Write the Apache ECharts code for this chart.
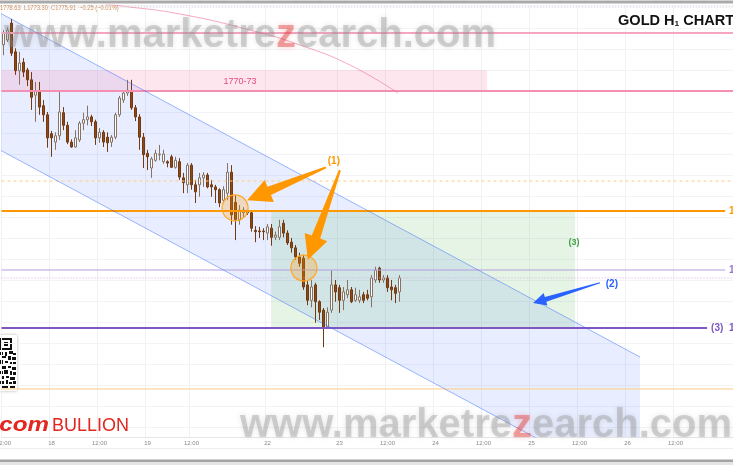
<!DOCTYPE html>
<html><head><meta charset="utf-8">
<script src="https://cdn.jsdelivr.net/npm/echarts@6/dist/echarts.min.js"></script>
<style>html,body{margin:0;padding:0;background:#fff;overflow:hidden}#c{width:733px;height:465px}</style>
</head><body><div id="c"></div>
<script>
// ---------- data (prices) ----------
const candleOpen = [1776.6,1777.3,1779.7,1775.6,1772.9,1774.1,1773.0,1771.6,1769.4,1769.9,
1767.9,1766.6,1763.9,1762.7,1763.6,1766.9,1765.1,1762.7,1762.0,1763.0,
1765.4,1765.9,1766.3,1765.6,1763.3,1764.1,1763.4,1762.7,1763.4,1766.6,
1768.7,1769.7,1770.0,1767.6,1766.3,1763.4,1761.1,1759.0,1760.1,1760.9,
1759.9,1759.9,1760.6,1759.1,1759.9,1757.6,1756.6,1759.4,1756.6,1756.6,
1757.6,1758.0,1756.6,1756.3,1755.9,1754.4,1755.4,1758.4,1754.1,1751.6,
1752.6,1752.7,1752.6,1750.1,1750.0,1750.0,1749.7,1750.4,1749.1,1749.1,
1751.1,1749.7,1748.4,1747.6,1746.3,1746.1,1742.3,1740.1,1742.3,1739.9,
1738.7,1736.3,1738.7,1742.3,1741.9,1740.1,1740.9,1741.6,1740.1,1740.1,
1740.9,1740.9,1740.6,1743.0,1744.7,1743.0,1743.3,1742.0,1741.9,1741.3];
const candleClose = [1778.3,1778.7,1775.4,1772.9,1774.0,1772.7,1771.6,1769.1,1769.9,1767.7,
1766.6,1763.3,1763.3,1763.6,1767.0,1765.1,1762.7,1762.0,1763.3,1765.4,
1765.9,1766.3,1765.6,1763.3,1764.1,1762.7,1762.6,1763.4,1766.6,1769.0,
1769.7,1770.1,1767.6,1766.3,1763.4,1760.9,1760.6,1760.3,1761.1,1761.0,
1761.0,1759.7,1759.1,1760.1,1757.7,1756.9,1759.4,1756.6,1755.6,1757.6,
1758.0,1756.3,1756.3,1755.9,1754.0,1755.9,1758.4,1752.3,1751.6,1753.0,
1753.0,1752.6,1750.4,1749.9,1749.9,1749.9,1750.6,1749.1,1749.4,1750.6,
1749.7,1748.3,1747.6,1746.3,1745.4,1742.0,1740.1,1742.0,1739.9,1738.4,
1736.3,1738.4,1742.3,1741.3,1740.1,1741.3,1741.6,1739.9,1740.9,1740.6,
1740.1,1740.4,1743.3,1744.4,1743.0,1743.3,1741.9,1741.6,1741.1,1743.3];
const candleLow = [1775.1,1777.0,1775.0,1772.3,1770.9,1772.0,1770.7,1767.3,1765.6,1766.6,
1765.6,1761.9,1760.6,1761.6,1763.0,1764.4,1762.4,1761.9,1761.9,1762.7,
1764.4,1765.1,1765.0,1762.3,1762.6,1762.0,1761.3,1762.0,1763.1,1766.3,
1768.3,1769.3,1767.3,1765.7,1761.6,1759.0,1758.7,1757.6,1759.9,1760.1,
1759.6,1759.1,1759.0,1758.9,1757.3,1755.4,1755.4,1755.9,1754.0,1754.9,
1756.3,1756.1,1754.9,1754.0,1753.4,1754.0,1754.4,1750.9,1748.7,1750.9,
1752.0,1752.3,1749.9,1748.4,1749.0,1748.7,1748.7,1747.9,1748.7,1748.7,
1749.1,1748.0,1746.9,1745.9,1744.9,1741.6,1739.4,1739.1,1736.9,1737.3,
1733.4,1736.1,1738.3,1739.9,1738.3,1738.7,1740.4,1739.7,1739.9,1739.7,
1739.7,1740.1,1739.1,1742.6,1742.6,1742.6,1741.3,1740.1,1739.7,1739.9];
const candleHigh = [1778.7,1779.1,1780.3,1776.1,1775.6,1774.7,1773.3,1772.7,1771.3,1771.3,
1768.7,1767.0,1764.3,1764.1,1769.9,1767.7,1765.6,1763.1,1764.4,1765.7,
1766.9,1767.9,1766.6,1765.9,1764.7,1764.4,1764.1,1763.7,1766.9,1769.3,
1770.1,1771.6,1771.6,1768.0,1766.7,1764.0,1761.6,1760.6,1761.6,1762.3,
1761.6,1760.1,1760.9,1760.6,1760.4,1758.3,1759.7,1759.7,1757.3,1758.3,
1758.4,1758.3,1757.3,1756.6,1756.1,1756.4,1759.7,1759.4,1755.1,1753.7,
1753.4,1753.0,1753.0,1750.7,1750.6,1750.4,1751.0,1751.0,1749.9,1751.6,
1751.6,1750.1,1749.0,1748.0,1746.9,1746.6,1743.0,1743.0,1742.6,1740.1,
1739.0,1739.1,1744.4,1743.0,1742.3,1742.0,1743.0,1742.0,1741.9,1741.6,
1741.3,1741.6,1743.7,1744.9,1744.9,1743.7,1743.7,1743.0,1742.3,1743.7];

const slotCount = 183;                       // hourly slots on the time axis (incl. future)
const tickSlots  = [0,12,24,36,47,66,84,96,108,120,132,144,156,168];
const tickLabels = ['12:00','18','12:00','19','12:00','22','23','12:00','24','12:00','25','12:00','26','12:00'];

// horizontal levels (price, from slot, to slot, price tag)
const levelPrice = [1778.29,1770.00,1757.14,1752.86,1744.43,1743.30,1736.14,1727.43];
const levelFrom  = [-0.5,-0.5,-0.5,-0.5,-0.5,-0.5,-0.5,-0.5];
const levelTo    = [182.5,182.5,182.5,180.4,180.4,182.5,175.9,182.5];
const levelTag   = ['','','','1752.86','1744.43','','(3)  1736.14',''];

// drawings in (slot, price)
const channelUpper = [[-0.875,1781.14],[159.125,1732.0]];
const channelLower = [[-0.875,1761.57],[159.125,1712.45]];
const maCurve = [[21.6,1782.7],[29.6,1782.14],[44.1,1781.0],[61.6,1778.71],[74.1,1776.57],[86.6,1773.71],[98.6,1769.71]];
const bandBox = [[-0.5,1773.0],[120.9,1770.0]];
const zoneBox = [[66.9,1752.86],[142.9,1736.14]];
const circleCenters = [[57.9,1753.3],[75.1,1744.7]];
const orangeArrows = [[80.6,1759.1,60.9,1754.4],[84.1,1758.7,76.1,1745.9]];
const blueArrows = [[149.1,1742.6,132.4,1739.7]];
const noteText = ['1770-73','(1)','(2)','(3)'];
const notePos  = [[59.1,1771.3],[82.6,1759.9],[152.1,1742.4],[142.6,1748.4]];

// ---------- styles ----------
const levelStyles = [
  {color:'#f6a5c0', width:2, type:'solid'},
  {color:'#f48fb1', width:2, type:'solid'},
  {color:'#ffcc80', width:1, type:[3,3]},
  {color:'#ff9800', width:2, type:'solid'},
  {color:'#b39ddb', width:1.2, type:'solid'},
  {color:'#d7a8e4', width:1, type:[1,2]},
  {color:'#7e57c2', width:2, type:'solid'},
  {color:'#ffcc80', width:1, type:'solid'}
];
const levelTagColor = ['','','','#ff9800','#9575cd','','#7e57c2',''];
const noteStyles = [
  {fill:'#e8487f', font:'9px "Liberation Sans"'},
  {fill:'#ff9800', font:'bold 10px "Liberation Sans"'},
  {fill:'#2962ff', font:'bold 10px "Liberation Sans"'},
  {fill:'#43a047', font:'bold 9px "Liberation Sans"'}
];

const categories = Array.from({length: slotCount}, (_, i) => String(i));
const candles = candleOpen.map((o, i) => [o, candleClose[i], candleLow[i], candleHigh[i]]);
const isTick = i => tickSlots.indexOf(i) >= 0;

function arrowPoints(api, a, headLen, headHalf, shaftHalf, tailHalf) {
  const t = api.coord([a[0], a[1]]), h = api.coord([a[2], a[3]]);
  const dx = h[0]-t[0], dy = h[1]-t[1], L = Math.hypot(dx, dy);
  const ux = dx/L, uy = dy/L, nx = -uy, ny = ux;
  const bx = h[0]-ux*headLen, by = h[1]-uy*headLen;
  return [[t[0]+nx*tailHalf, t[1]+ny*tailHalf],[bx+nx*shaftHalf, by+ny*shaftHalf],[bx+nx*headHalf, by+ny*headHalf],
          [h[0], h[1]],[bx-nx*headHalf, by-ny*headHalf],[bx-nx*shaftHalf, by-ny*shaftHalf],[t[0]-nx*tailHalf, t[1]-ny*tailHalf]];
}
function rectFrom(api, box) {
  const p0 = api.coord(box[0]), p1 = api.coord(box[1]);
  return {x: Math.min(p0[0],p1[0]), y: Math.min(p0[1],p1[1]), width: Math.abs(p1[0]-p0[0]), height: Math.abs(p1[1]-p0[1])};
}

const series = [];
series.push({type:'custom', xAxisIndex:1, yAxisIndex:0, clip:true, silent:true, z:1, data:[[0,1750]],
  renderItem:(p, api) => ({type:'polygon', shape:{points:[api.coord(channelUpper[0]),api.coord(channelUpper[1]),api.coord(channelLower[1]),api.coord(channelLower[0])]},
    style:{fill:'rgba(41,98,255,0.11)'}})});
series.push({type:'custom', xAxisIndex:1, yAxisIndex:0, clip:true, silent:true, z:1, data:[[0,1771]],
  renderItem:(p, api) => ({type:'rect', shape:rectFrom(api, bandBox), style:{fill:'rgba(244,143,177,0.22)'}})});
series.push({type:'custom', xAxisIndex:1, yAxisIndex:0, clip:true, silent:true, z:1, data:[[100,1745]],
  renderItem:(p, api) => ({type:'rect', shape:rectFrom(api, zoneBox), style:{fill:'rgba(76,175,80,0.14)'}})});

levelPrice.forEach((pr, i) => {
  const st = levelStyles[i];
  series.push({type:'line', xAxisIndex:1, yAxisIndex:0, silent:true, z:4, symbol:'none',
    data:[[levelFrom[i], pr],[levelTo[i], pr]],
    lineStyle:{color:st.color, width:st.width, type:st.type},
    endLabel: levelTag[i] ? {show:true, formatter:levelTag[i], color:levelTagColor[i], fontSize:10, fontWeight:'bold', distance:4, fontFamily:'Liberation Sans'} : {show:false}
  });
});
[channelUpper, channelLower].forEach(seg => series.push({type:'line', xAxisIndex:1, yAxisIndex:0, silent:true, z:4, symbol:'none',
  data:seg, lineStyle:{color:'rgba(41,98,255,0.45)', width:1}}));
series.push({type:'line', xAxisIndex:1, yAxisIndex:0, silent:true, z:4, symbol:'none', smooth:true,
  data:maCurve, lineStyle:{color:'rgba(240,98,146,0.55)', width:1}});

series.push({type:'candlestick', xAxisIndex:0, yAxisIndex:0, z:3, barWidth:3, data:candles,
  itemStyle:{color:'#ffffff', color0:'#8b4a17', borderColor:'#857363', borderColor0:'#73390f', borderWidth:1}});

series.push({type:'custom', xAxisIndex:1, yAxisIndex:0, clip:true, silent:true, z:6, data:circleCenters,
  renderItem:(p, api) => { const c = api.coord([api.value(0), api.value(1)]);
    return {type:'circle', shape:{cx:c[0], cy:c[1], r:13}, style:{fill:'rgba(255,152,0,0.25)', stroke:'#ffa726', lineWidth:1.2}}; }});
series.push({type:'custom', xAxisIndex:1, yAxisIndex:0, clip:false, silent:true, z:7, data:orangeArrows,
  renderItem:(p, api) => ({type:'polygon', shape:{points:arrowPoints(api, orangeArrows[p.dataIndex], 24, 12, 4.5, 1)}, style:{fill:'#ff9800'}})});
series.push({type:'custom', xAxisIndex:1, yAxisIndex:0, clip:false, silent:true, z:7, data:blueArrows,
  renderItem:(p, api) => ({type:'polygon', shape:{points:arrowPoints(api, blueArrows[p.dataIndex], 13, 6.5, 2.5, 0.5)}, style:{fill:'#2962ff'}})});
series.push({type:'custom', xAxisIndex:1, yAxisIndex:0, clip:false, silent:true, z:8, data:notePos,
  renderItem:(p, api) => { const c = api.coord([api.value(0), api.value(1)]); const s = noteStyles[p.dataIndex];
    return {type:'text', x:c[0], y:c[1], style:{text:noteText[p.dataIndex], fill:s.fill, font:s.font, align:'center', verticalAlign:'middle'}}; }});

// QR decoration modules
const qrMods = [[0,17,3,3],[5,17,2,4],[9,16,4,3],[13,18,3,2],[2,21,4,2],[8,21,3,4],[12,22,4,3],[0,25,3,4],[5,26,3,2],[10,27,2,3],
 [13,27,3,3],[1,31,5,3],[8,31,3,2],[12,32,4,3],[0,36,3,3],[4,35,4,4],[10,36,2,4],[13,37,3,3],[1,41,3,3],[6,41,3,2],[10,42,5,3],
 [0,46,4,3],[6,45,2,4],[9,47,3,2],[13,46,3,3],[2,50,6,3],[10,50,5,3]];
const qrChildren = [
  {type:'rect', shape:{x:-1,y:0,width:18,height:56}, style:{fill:'#fff', shadowBlur:3, shadowColor:'rgba(0,0,0,0.3)'}},
  {type:'rect', shape:{x:0,y:3,width:12,height:12}, style:{fill:'#111'}},
  {type:'rect', shape:{x:2,y:5,width:8,height:8}, style:{fill:'#fff'}},
  {type:'rect', shape:{x:4,y:7,width:4,height:4}, style:{fill:'#111'}}
].concat(qrMods.map(m => ({type:'rect', shape:{x:m[0],y:m[1],width:m[2],height:m[3]}, style:{fill:'#111'}})));

const wmRich = {
  g:{fill:'rgba(140,140,140,0.36)', font:'bold 40px "Liberation Sans"', textShadowBlur:5, textShadowColor:'rgba(130,130,130,0.6)'},
  r:{fill:'rgba(220,50,50,0.40)', font:'bold 40px "Liberation Sans"', textShadowBlur:5, textShadowColor:'rgba(220,50,50,0.6)'}
};

const option = {
  animation:false,
  backgroundColor:'#ffffff',
  textStyle:{fontFamily:'Liberation Sans'},
  grid:{left:1.5, top:5, width:732, height:432, containLabel:false, outerBoundsMode:'none'},
  xAxis:[
    {type:'category', data:categories, boundaryGap:true,
     axisLine:{show:true, lineStyle:{color:'#e6e6e6'}}, axisTick:{show:false},
     axisLabel:{interval:(i) => isTick(i), formatter:(v, i) => { const k = tickSlots.indexOf(Number(v)); return k >= 0 ? tickLabels[k] : ''; },
       fontSize:6, color:'#8a8a8a', margin:3},
     splitLine:{show:true, interval:(i) => isTick(i), lineStyle:{color:'#f0f1f4', width:1}}},
    {type:'value', min:-0.5, max:182.5, show:false, splitLine:{show:false}}
  ],
  yAxis:[{type:'value', position:'right', min:1720.5714, max:1782.2857, splitNumber:20,
    axisLabel:{show:false}, axisLine:{show:false}, axisTick:{show:false},
    splitLine:{show:true, lineStyle:{color:'#f2f3f6', width:1}}}],
  series:series,
  graphic:[
    {type:'rect', z:50, shape:{x:0,y:0.5,width:733,height:3}, style:{fill:'#a9a9a9'}},
    {type:'line', z:50, shape:{x1:0,y1:6.5,x2:733,y2:6.5}, style:{stroke:'#dcdcdc', lineWidth:1, lineDash:[1,2]}},
    {type:'line', z:50, shape:{x1:0,y1:448.5,x2:733,y2:448.5}, style:{stroke:'#eeeeee', lineWidth:1}},
    {type:'rect', z:50, shape:{x:0,y:459.5,width:733,height:2.5}, style:{fill:'#a4a4a4'}},
    {type:'rect', z:50, shape:{x:0,y:462,width:733,height:3}, style:{fill:'#e4e4e4'}},
    {type:'text', z:60, x:0, y:8.5, scaleX:0.82, style:{text:'1778.63  L1773.30  C1775.91  \u22120.25 (\u22120.01%)', font:'7px "Liberation Sans"', fill:'#cf9260', verticalAlign:'middle'}},
    {type:'text', z:60, x:618, y:21, scaleX:1.04, style:{text:'{a|GOLD H}{s|1}{a| CHART}', verticalAlign:'middle',
      rich:{a:{font:'bold 14px "Liberation Sans"', fill:'#111'}, s:{font:'bold 8px "Liberation Sans"', fill:'#111', verticalAlign:'bottom', padding:[6,0,0,0]}}}},
    {type:'text', z:40, x:4, y:36, style:{text:'{g|www.marketre}{r|z}{g|earch.com}', rich:wmRich, verticalAlign:'middle'}},
    {type:'text', z:40, x:240, y:426, style:{text:'{g|www.marketre}{r|z}{g|earch.com}', rich:wmRich, verticalAlign:'middle'}},
    {type:'text', z:45, x:49, y:425, scaleX:1.15, style:{text:'com', font:'italic bold 21px "Liberation Sans"', fill:'#e3261f', align:'right', verticalAlign:'middle'}},
    {type:'text', z:45, x:52, y:426, style:{text:'BULLION', font:'18px "Liberation Sans"', fill:'#e3261f', verticalAlign:'middle'}},
    {type:'group', z:45, x:0, y:335, children:qrChildren}
  ]
};
const chart = echarts.init(document.getElementById('c'));
chart.setOption(option);
</script>
</body></html>
